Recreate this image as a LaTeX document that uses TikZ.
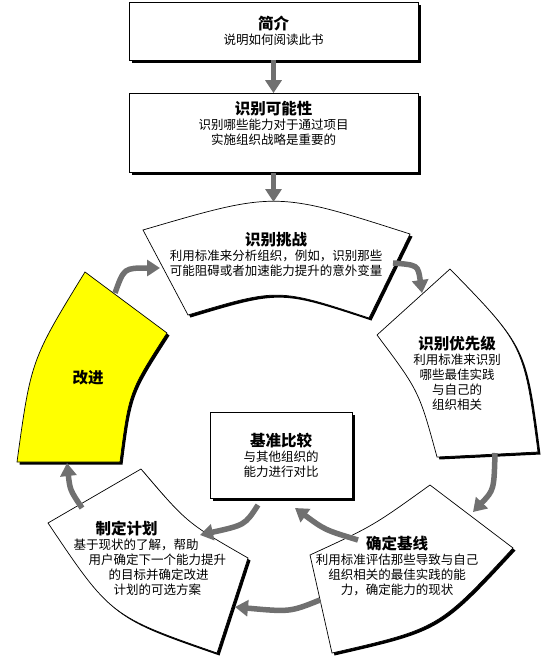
\documentclass[tikz,border=0pt]{standalone}
\usepackage{fontspec}
\setmainfont{Noto Sans CJK SC}
\usetikzlibrary{arrows.meta,shadows}
\definecolor{flowgray}{RGB}{112,112,112}
\definecolor{improveyellow}{RGB}{255,255,0}
\newcommand{\segtitle}[1]{{\fontsize{15.5}{18}\selectfont\bfseries #1}}

\begin{document}
\begin{tikzpicture}[x=1pt,y=-1pt,
    every node/.style={font=\fontsize{12.5}{15}\selectfont,align=center},
    shadowed/.style={drop shadow={shadow xshift=2.5pt,shadow yshift=-2.5pt,fill=black,opacity=1}},
    box/.style={draw,fill=white,line width=0.7pt,minimum width=289pt,shadowed},
    seg/.style={draw,fill=white,line width=0.7pt,shadowed},
    flow/.style={draw=flowgray,line width=5.5pt,-{Triangle[length=13pt,width=16pt]}}]
  \useasboundingbox (0,0) rectangle (544,656);
  % ring segments
  \path[seg] (143,230) .. controls (276,191) .. (410,234) -- (369,318)
    .. controls (278,288) .. (188,315) -- cycle;
  \path[seg] (450,269) .. controls (524,345) .. (538,452) -- (437,457)
    .. controls (419,391) .. (377,335) -- cycle;
  \path[seg] (430,485) -- (513,548) .. controls (438.5,628.5) .. (332,653)
    -- (310,555) .. controls (373,526) .. cycle;
  \path[seg] (48,523) -- (141,469) .. controls (187,523) .. (248,558)
    -- (217,653) .. controls (110.5,616) .. cycle;
  \path[seg,fill=improveyellow] (85,272) -- (167,333) .. controls (129,392) .. (120,462)
    -- (17,462) .. controls (31,360) .. cycle;
  % boxes
  \node[box,minimum height=58pt] (intro) at (273.5,31)
    {\segtitle{简介}\\说明如何阅读此书};
  \node[box,minimum height=79pt] (poss) at (273.5,133)
    {\segtitle{识别可能性}\\识别哪些能力对于通过项目\\实施组织战略是重要的\\\strut};
  \node[box,minimum width=142pt,minimum height=86pt] (bench) at (281,455)
    {\segtitle{基准比较}\\与其他组织的\\能力进行对比};
  % segment labels
  \node (chal) at (276,254)
    {\segtitle{识别挑战}\\利用标准来分析组织，例如，识别那些\\可能阻碍或者加速能力提升的意外变量};
  \node (prio) at (457,373)
    {\segtitle{识别优先级}\\利用标准来识别\\哪些最佳实践\\与自己的\\组织相关};
  \node (base) at (397,566)
    {\segtitle{确定基线}\\利用标准评估那些导致与自己\\组织相关的最佳实践的能\\力，确定能力的现状};
  \node[align=left,anchor=west] (plan) at (70,558)
    {\hspace*{22pt}\segtitle{制定计划}\\基于现状的了解，帮助\\\hspace*{15pt}用户确定下一个能力提升\\
     \hspace*{35pt}的目标并确定改进\\\hspace*{40pt}计划的可选方案};
  \node (impr) at (88,378) {\segtitle{改进}};
  % arrow ends
  \coordinate (chal-top) at (273.5,202);
  \coordinate (impr-out) at (115,293);
  \coordinate (chal-in) at (160,268);
  \coordinate (chal-out) at (393,263);
  \coordinate (prio-in) at (422,293);
  \coordinate (prio-out) at (495,453);
  \coordinate (base-in) at (473,512);
  \coordinate (base-out1) at (358,540);
  \coordinate (bench-in) at (295,508);
  \coordinate (bench-out) at (258,505);
  \coordinate (plan-in1) at (200,535);
  \coordinate (base-out2) at (320,600);
  \coordinate (plan-in2) at (235,607);
  \coordinate (plan-out) at (82,508);
  \coordinate (impr-in) at (67,463);
  % arrows
  \draw[flow] (intro) -- (poss);
  \draw[flow] (poss) -- (chal-top);
  \draw[flow] (impr-out) .. controls (124,268) .. (chal-in);
  \draw[flow] (chal-out) .. controls (418,265) .. (prio-in);
  \draw[flow] (prio-out) .. controls (494,490) .. (base-in);
  \draw[flow] (base-out1) .. controls (325,530) .. (bench-in);
  \draw[flow] (bench-out) .. controls (245,525) .. (plan-in1);
  \draw[flow] (base-out2) .. controls (290,612) .. (plan-in2);
  \draw[flow] (plan-out) .. controls (70,490) .. (impr-in);
\end{tikzpicture}
\end{document}
